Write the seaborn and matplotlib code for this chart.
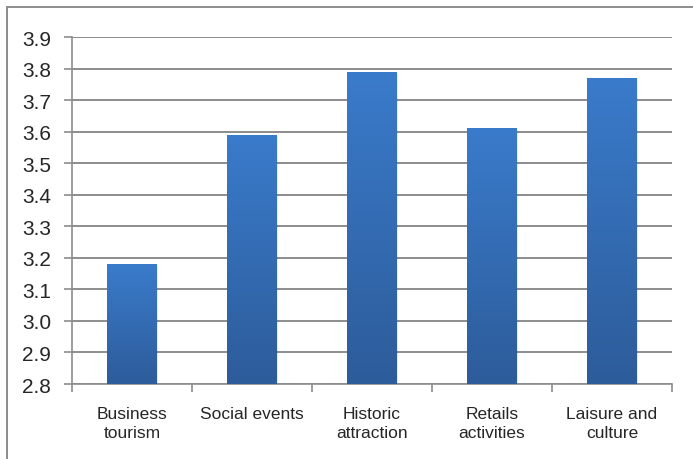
import numpy as np
import pandas as pd
import matplotlib
matplotlib.use("Agg")
import matplotlib.pyplot as plt
import seaborn as sns
from matplotlib.colors import LinearSegmentedColormap
from matplotlib.patches import Rectangle

# Chart data
categories = ["Business\ntourism", "Social events", "Historic\nattraction",
              "Retails\nactivities", "Laisure and\nculture"]
scores = [3.18, 3.59, 3.79, 3.61, 3.77]
y_ticks = [2.8, 2.9, 3.0, 3.1, 3.2, 3.3, 3.4, 3.5, 3.6, 3.7, 3.8, 3.9]
y_min, y_max = 2.8, 3.9

df = pd.DataFrame({"category": categories, "score": scores})

sns.set_style("white")
plt.rcParams["font.family"] = ["Liberation Sans", "DejaVu Sans"]

fig = plt.figure(figsize=(6.93, 4.60), dpi=100)
ax = fig.add_axes([72 / 693, 75 / 460, 600 / 693, 347 / 460])

sns.barplot(data=df, x="category", y="score", color="#3a7bcb",
            width=0.41, ax=ax, zorder=3)

ax.set_yticks(y_ticks)
ax.set_yticklabels([f"{t:.1f}" for t in y_ticks], fontsize=15)
ax.set_xticks(range(len(categories)))
ax.set_xticklabels(categories, fontsize=12.5, linespacing=1.35)
ax.set_xticks(np.arange(-0.5, 5.0, 1.0), minor=True)
ax.set_xlabel("")
ax.set_ylabel("")

grid_col = "#8c8c8c"
ax.yaxis.grid(True, color=grid_col, linewidth=1.4, zorder=0)
ax.set_axisbelow(True)
for side in ["top", "right"]:
    ax.spines[side].set_visible(False)
for side in ["left", "bottom"]:
    ax.spines[side].set_color(grid_col)
    ax.spines[side].set_linewidth(1.2)

ax.tick_params(axis="y", which="major", left=True, length=6, width=1.2,
               color=grid_col, direction="out", pad=9)
ax.tick_params(axis="x", which="major", bottom=False, pad=12)
ax.tick_params(axis="x", which="minor", bottom=True, length=6, width=1.2,
               color=grid_col, direction="out")

# gradient fill: lighter at top, darker at bottom, only the visible part
cmap = LinearSegmentedColormap.from_list("bar", ["#2d5c9a", "#3a7bcb"])
grad = np.linspace(0, 1, 256).reshape(-1, 1)
for p in list(ax.patches):
    x0, w = p.get_x(), p.get_width()
    top = p.get_y() + p.get_height()
    p.set_visible(False)
    # soft shadow on the right
    ax.add_patch(Rectangle((x0 + 0.014, y_min), w, top - y_min - 0.004,
                           facecolor="#000000", alpha=0.08,
                           edgecolor="none", zorder=2))
    clip = Rectangle((x0, y_min), w, top - y_min, transform=ax.transData,
                     facecolor="none", edgecolor="none")
    ax.add_patch(clip)
    img = ax.imshow(grad, cmap=cmap, origin="lower", aspect="auto",
                    extent=[x0, x0 + w, y_min, top], zorder=3.5)
    img.set_clip_path(clip)

ax.set_xlim(-0.5, 4.5)
ax.set_ylim(y_min, y_max)

# outer chart border (right and bottom edges fall outside the image)
fig.patches.append(Rectangle((7 / 693, -0.05), 1.1, (460 - 8) / 460 + 0.05,
                             transform=fig.transFigure, fill=False,
                             edgecolor=grid_col, linewidth=1.4))

fig.savefig("out.png", dpi=100)
